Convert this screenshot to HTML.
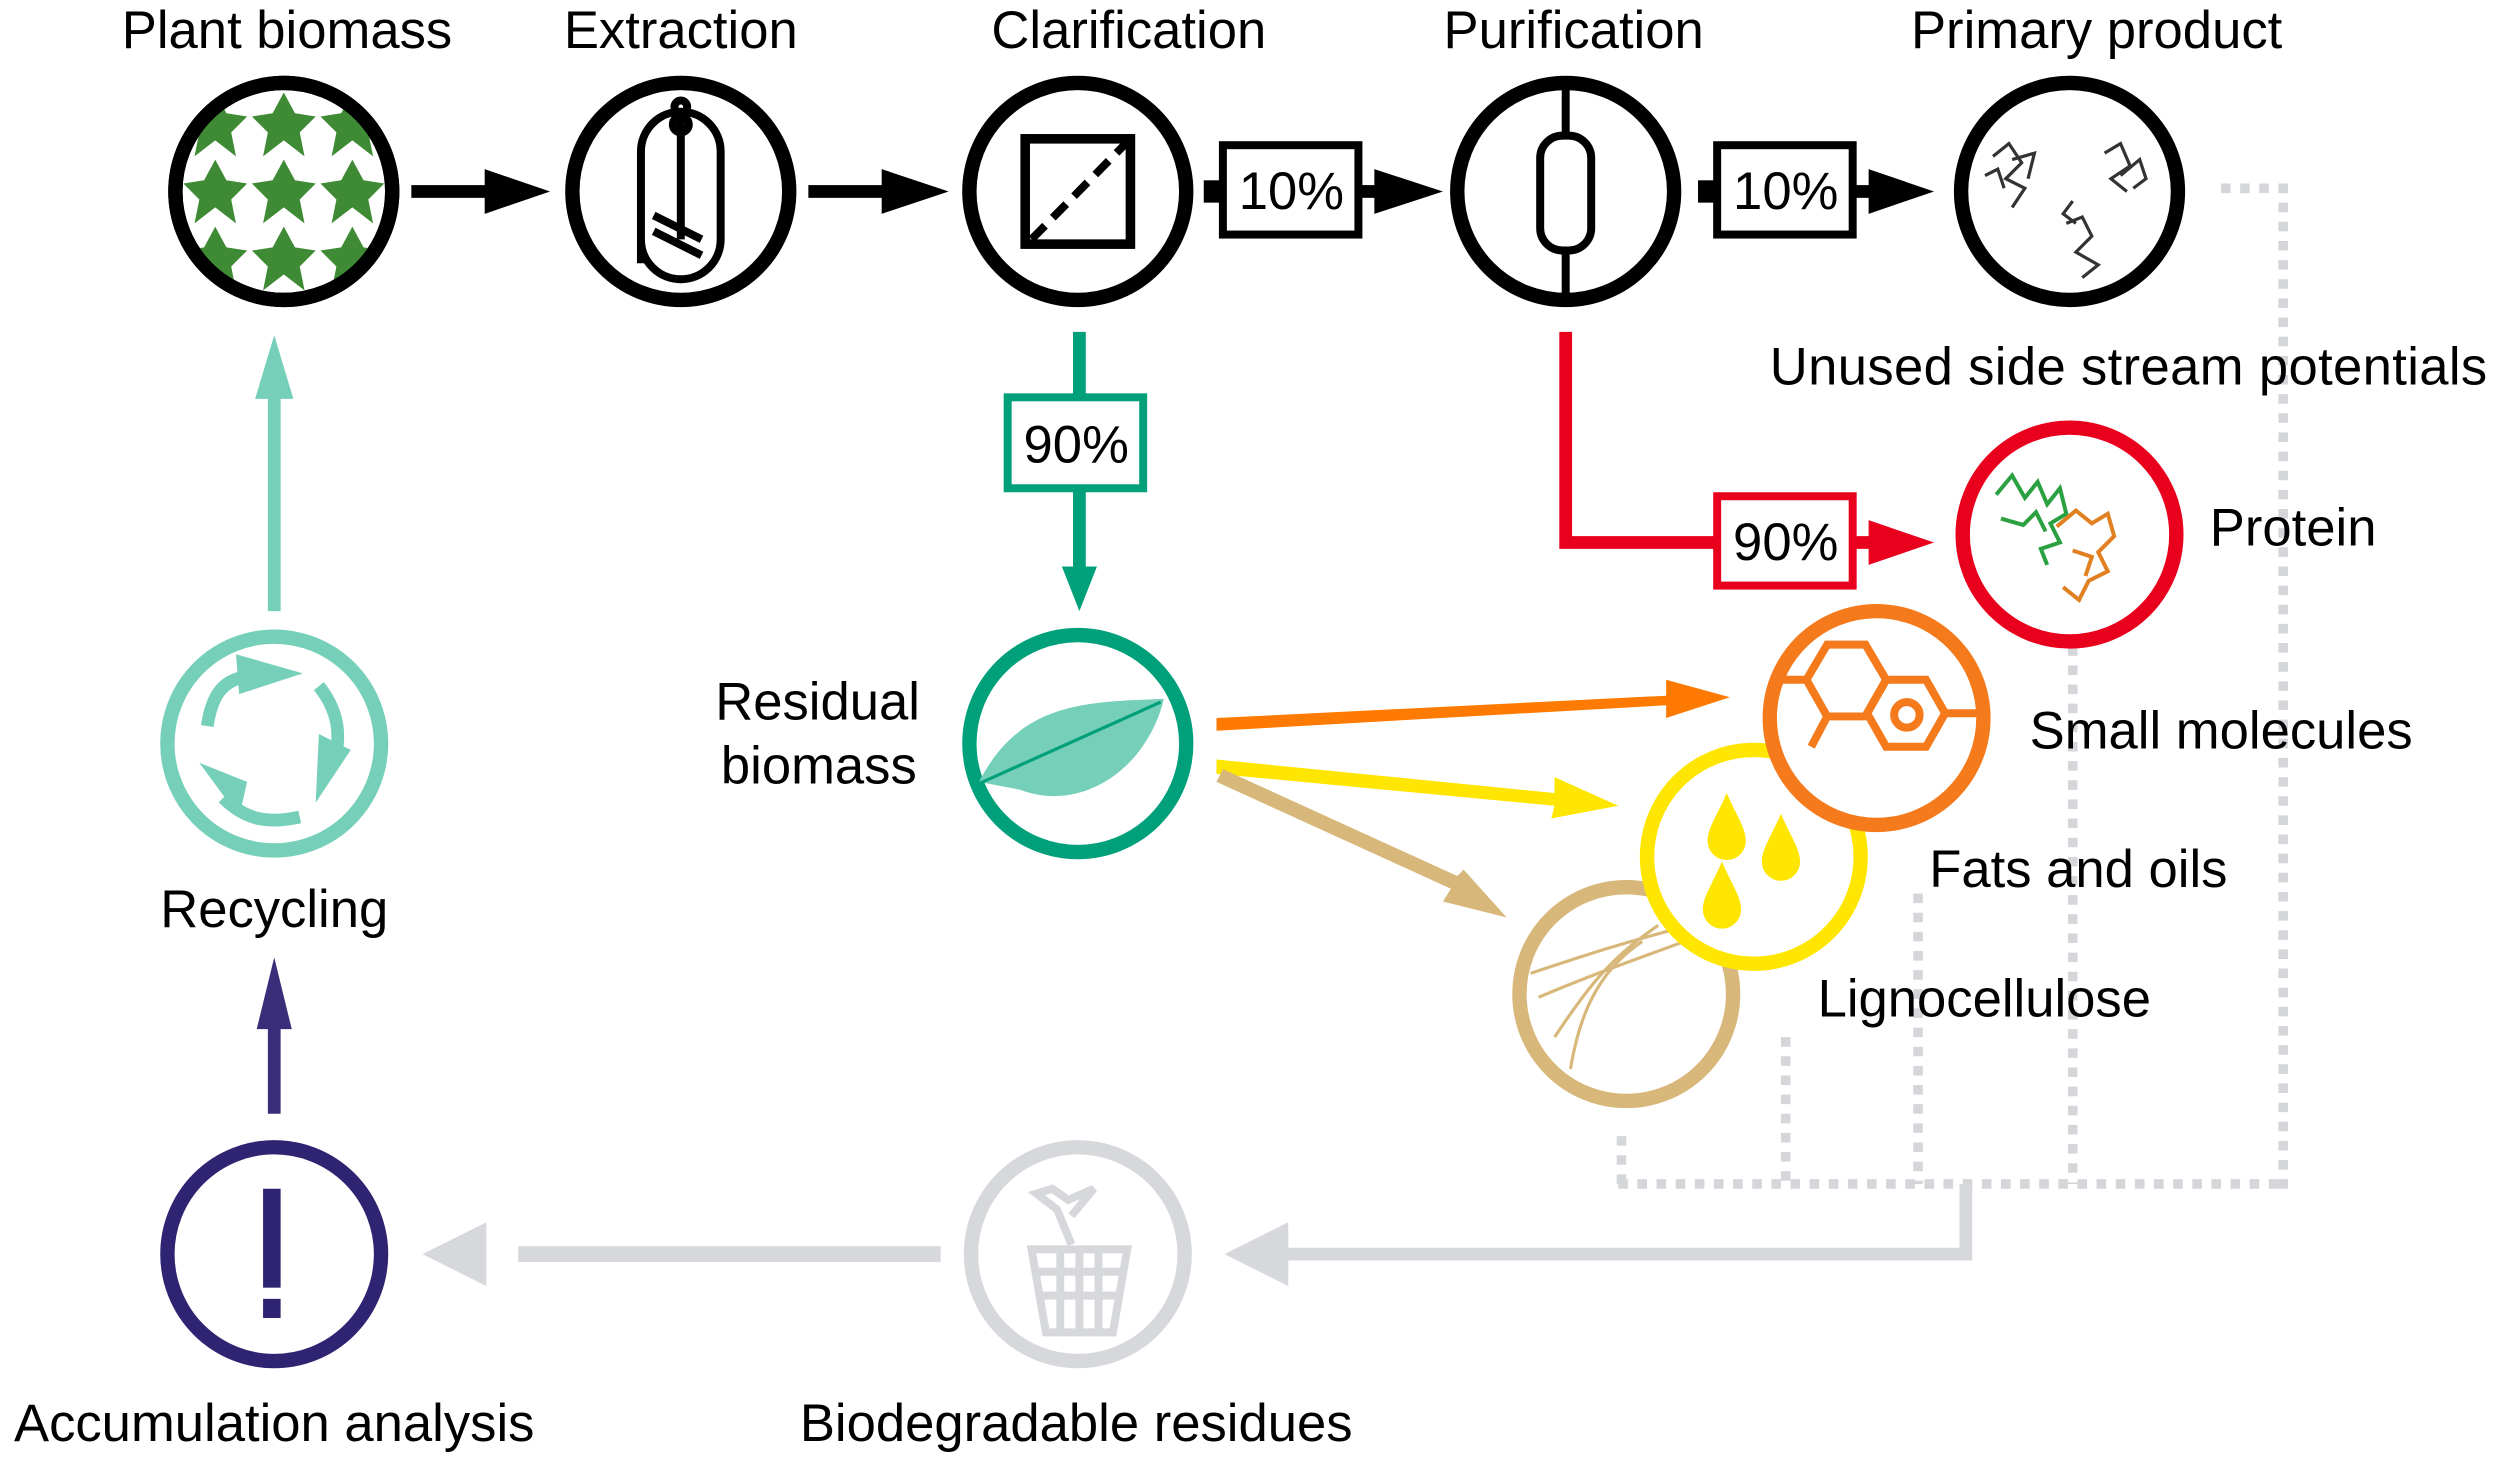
<!DOCTYPE html>
<html><head><meta charset="utf-8"><style>
html,body{margin:0;padding:0;background:#fff;}
svg{display:block;}
text{font-family:"Liberation Sans",sans-serif;font-size:33px;fill:#000;}
</style></head><body>
<svg width="2500" height="1460" viewBox="0 0 1568 915" preserveAspectRatio="none" xmlns="http://www.w3.org/2000/svg">
<defs>
<g id="lf"><path d="M0 -20 L7 -7 L20 -5 L10 5 L13 20 L0 10 L-13 20 L-10 5 L-20 -5 L-7 -7Z"/></g>
<clipPath id="pc"><circle cx="178" cy="120" r="66"/></clipPath>
</defs>
<!-- dotted gray lines -->
<g stroke="#d4d6da" stroke-width="6" fill="none" stroke-dasharray="6 6">
<path d="M1393 118 H1432 V745"/>
<path d="M1015 742 H1435"/>
<path d="M1300 405 V742"/>
<path d="M1203 560 V742"/>
<path d="M1120 650 V742"/>
<path d="M1017 712 V742"/>
</g>
<!-- gray solid return -->
<g fill="#d6d8dc" stroke="none">
<path d="M1229 742 h8 v48 H805 v-8 h424z"/>
<polygon points="768,786 808,766 808,806"/>
<rect x="325" y="781" width="265" height="10"/>
<polygon points="265,786 305,766 305,806"/>
</g>
<!-- top labels -->
<text x="180" y="30" text-anchor="middle">Plant biomass</text>
<text x="427" y="30" text-anchor="middle">Extraction</text>
<text x="708" y="30" text-anchor="middle">Clarification</text>
<text x="987" y="30" text-anchor="middle">Purification</text>
<text x="1315" y="30" text-anchor="middle">Primary product</text>
<text x="1110" y="241" textLength="450">Unused side stream potentials</text>
<!-- black circles -->
<g fill="#fff" stroke="#000" stroke-width="9">
<circle cx="178" cy="120" r="68"/>
<circle cx="427" cy="120" r="68"/>
<circle cx="676" cy="120" r="68"/>
<circle cx="982" cy="120" r="68"/>
<circle cx="1298" cy="120" r="68"/>
</g>
<!-- leaves pattern -->
<g fill="#3f8a34" clip-path="url(#pc)">
<use href="#lf" x="135" y="78"/><use href="#lf" x="178" y="78"/><use href="#lf" x="221" y="78"/>
<use href="#lf" x="135" y="120"/><use href="#lf" x="178" y="120"/><use href="#lf" x="221" y="120"/>
<use href="#lf" x="135" y="162"/><use href="#lf" x="178" y="162"/><use href="#lf" x="221" y="162"/>
</g>
<circle cx="178" cy="120" r="68" fill="none" stroke="#000" stroke-width="9"/>
<!-- extraction icon -->
<g stroke="#000" stroke-width="5" fill="none">
<path d="M402 165 V95 a25 25 0 0 1 50 0 V150 a25 25 0 0 1 -50 0z"/>
<line x1="427" y1="68" x2="427" y2="150"/>
<line x1="410" y1="135" x2="440" y2="150"/><line x1="410" y1="145" x2="440" y2="160"/>
<circle cx="427" cy="78" r="5"/><circle cx="427" cy="67" r="4"/>
</g>
<!-- clarification icon -->
<rect x="643" y="87" width="66" height="66" fill="none" stroke="#000" stroke-width="6"/>
<line x1="647" y1="150" x2="706" y2="90" stroke="#000" stroke-width="5" stroke-dasharray="12 7"/>
<!-- purification icon -->
<g stroke="#000" stroke-width="5" fill="none">
<rect x="966" y="85" width="32" height="72" rx="14"/>
<line x1="982" y1="54" x2="982" y2="85"/><line x1="982" y1="157" x2="982" y2="186"/>
</g>
<!-- primary product protein scribbles -->
<g stroke="#333" stroke-width="2" fill="none">
<path d="M1250 98 l10 -8 l8 12 l-10 10 l12 6 l-8 12 M1262 100 l14 -4 l-4 16 M1245 110 l8 -4 l4 12"/>
<path d="M1320 96 l10 -6 l6 14 l-12 8 l10 8 M1330 110 l12 -10 l4 12 l-8 6"/>
<path d="M1296 140 l10 -4 l6 12 l-10 10 l14 8 l-10 8 M1300 126 l-6 8 l8 6"/>
</g>
<!-- black arrows -->
<g fill="#000">
<rect x="258" y="116" width="50" height="8"/><polygon points="304,106 345,120 304,134"/>
<rect x="507" y="116" width="50" height="8"/><polygon points="553,106 595,120 553,134"/>
<rect x="755" y="113" width="12" height="14"/>
<rect x="850" y="116" width="18" height="8"/><polygon points="862,106 905,120 862,134"/>
<rect x="1065" y="113" width="12" height="14"/>
<rect x="1160" y="116" width="18" height="8"/><polygon points="1172,106 1213,120 1172,134"/>
</g>
<rect x="767" y="91" width="85" height="56" fill="#fff" stroke="#000" stroke-width="5"/>
<text x="810" y="131" text-anchor="middle">10%</text>
<rect x="1077" y="91" width="85" height="56" fill="#fff" stroke="#000" stroke-width="5"/>
<text x="1120" y="131" text-anchor="middle">10%</text>
<!-- green clarification path -->
<g fill="#00a07a">
<rect x="673" y="208" width="8" height="150"/>
<polygon points="666,355 688,355 677,383"/>
</g>
<rect x="632" y="249" width="85" height="57" fill="#fff" stroke="#00a07a" stroke-width="5"/>
<text x="675" y="290" text-anchor="middle">90%</text>
<!-- red path -->
<path d="M982 208 V340 H1180" fill="none" stroke="#e8001c" stroke-width="8"/>
<polygon points="1172,326 1213,340 1172,354" fill="#e8001c"/>
<rect x="1077" y="311" width="85" height="56" fill="#fff" stroke="#e8001c" stroke-width="5"/>
<text x="1120" y="351" text-anchor="middle">90%</text>
<!-- protein -->
<circle cx="1298" cy="335" r="67" fill="#fff" stroke="#e8001c" stroke-width="9"/>
<g fill="none" stroke-width="2.5">
<path d="M1252 310 l10 -12 l8 14 l8 -10 l6 14 l8 -10 l4 16 l-10 6 l6 12 l-12 4 l4 10 M1255 325 l14 4 l8 -8 l6 12" stroke="#2aa040"/>
<path d="M1290 330 l12 -10 l10 8 l10 -6 l4 14 l-10 10 l6 12 l-12 6 l-6 12 l-10 -8 M1300 345 l12 4 l-4 12" stroke="#e08020"/>
</g>
<text x="1386" y="342">Protein</text>
<!-- colored arrows from residual -->
<polygon points="763,450 1045,436 1045,426 1085,437 1045,450 1045,442 763,458" fill="#ff7a00"/>
<polygon points="763,476 975,497 975,487 1015,505 973,513 975,505 763,485" fill="#ffe600"/>
<polygon points="763,490 910,557 905,565 945,575 918,545 914,549 767,482" fill="#d8b87a"/>
<!-- lignocellulose -->
<circle cx="1020" cy="623" r="67" fill="#fff" stroke="#d8b87a" stroke-width="9"/>
<g fill="none" stroke="#d8b87a" stroke-width="2">
<path d="M960 610 C990 600 1020 590 1060 580 M965 625 C1000 610 1030 600 1070 585 M975 650 C995 620 1010 600 1040 580 M985 670 C990 640 1000 610 1030 590"/>
</g>
<!-- fats and oils -->
<circle cx="1100" cy="537" r="67" fill="#fff" stroke="#ffe600" stroke-width="9"/>
<g fill="#ffe600">
<path d="M1083 497 c-6 14 -12 22 -12 30 a12 12 0 0 0 24 0 c0 -8 -6 -16 -12 -30z"/>
<path d="M1117 510 c-6 14 -12 22 -12 30 a12 12 0 0 0 24 0 c0 -8 -6 -16 -12 -30z"/>
<path d="M1080 540 c-6 14 -12 22 -12 30 a12 12 0 0 0 24 0 c0 -8 -6 -16 -12 -30z"/>
</g>
<!-- small molecules -->
<circle cx="1177" cy="450" r="67" fill="#fff" stroke="#f47a1b" stroke-width="9"/>
<g fill="none" stroke="#f47a1b" stroke-width="5">
<path d="M1112 426 H1133 L1146 404 H1170 L1183 426 L1170 449 H1146 L1133 426 M1146 449 L1136 468"/>
<path d="M1183 426 H1208 L1220 447 L1208 468 H1183 L1171 447 Z M1220 447 H1243"/>
<circle cx="1196" cy="448" r="8"/>
</g>
<text x="1273" y="469">Small molecules</text>
<text x="1210" y="556">Fats and oils</text>
<text x="1140" y="637">Lignocellulose</text>
<!-- residual biomass -->
<circle cx="676" cy="466" r="68" fill="#fff" stroke="#00a07a" stroke-width="9"/>
<path d="M614 490 C640 440 680 440 730 438 C720 480 680 510 640 495 Z" fill="#76d0b9"/>
<line x1="612" y1="492" x2="728" y2="440" stroke="#00a07a" stroke-width="2"/>
<text x="577" y="451" text-anchor="end">Residual</text>
<text x="575" y="491" text-anchor="end">biomass</text>
<!-- recycling -->
<rect x="168" y="245" width="8" height="138" fill="#76d0b9"/>
<polygon points="160,250 184,250 172,210" fill="#76d0b9"/>
<circle cx="172" cy="466" r="67" fill="#fff" stroke="#76d0b9" stroke-width="9"/>
<g fill="none" stroke="#76d0b9" stroke-width="8">
<path d="M130 455 C133 435 140 428 150 425"/>
<path d="M200 430 C212 445 214 460 210 475"/>
<path d="M188 512 C170 516 155 515 140 500"/>
</g>
<g fill="#76d0b9">
<polygon points="148,410 190,422 150,435"/>
<polygon points="220,470 198,503 200,460"/>
<polygon points="150,512 125,478 155,490"/>
</g>
<text x="172" y="581" text-anchor="middle">Recycling</text>
<!-- navy -->
<rect x="168" y="640" width="8" height="58" fill="#3a2d7a"/>
<polygon points="161,645 183,645 172,600" fill="#3a2d7a"/>
<circle cx="172" cy="786" r="67" fill="#fff" stroke="#2f2472" stroke-width="9"/>
<rect x="165" y="745" width="11" height="62" fill="#2f2472"/>
<rect x="165" y="814" width="11" height="12" fill="#2f2472"/>
<text x="172" y="903" text-anchor="middle">Accumulation analysis</text>
<!-- biodegradable -->
<circle cx="676" cy="786" r="67" fill="#fff" stroke="#d6d8dc" stroke-width="9"/>
<g fill="none" stroke="#d6d8dc" stroke-width="5">
<path d="M647 783 H707 L698 835 H656 Z M651 797 H703 M654 812 H701 M665 783 V835 M677 783 V835 M689 783 V835"/>
<path d="M672 780 L663 758 L650 748 L660 745 L670 752 L686 745 L672 762"/>
</g>
<text x="675" y="903" text-anchor="middle">Biodegradable residues</text>
</svg>
</body></html>
